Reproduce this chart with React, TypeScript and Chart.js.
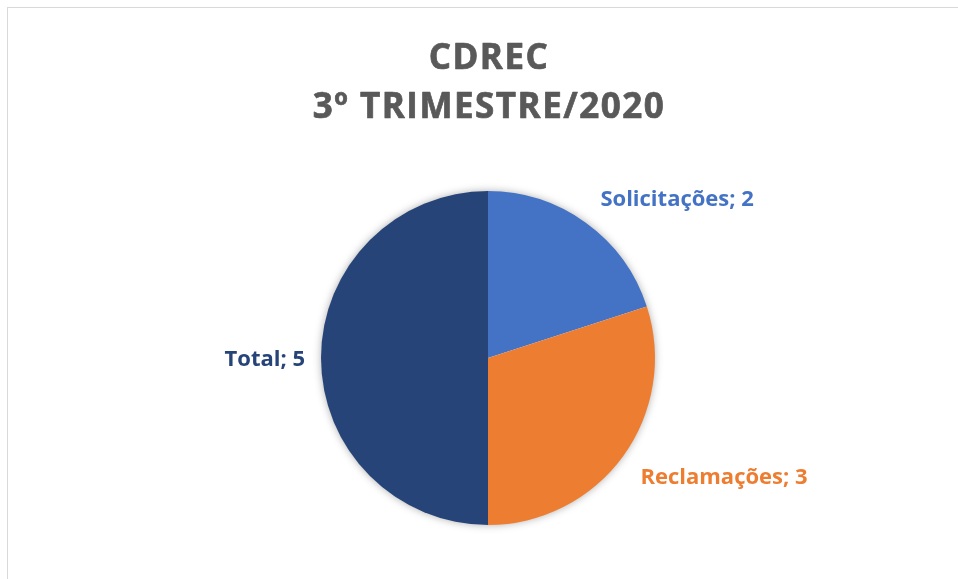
import React, { useEffect, useRef } from "react";
import { Chart, registerables } from "chart.js";

Chart.register(...registerables);

const titleLines = ["CDREC", "3º TRIMESTRE/2020"];
const categories = ["Solicitações", "Reclamações", "Total"];
const values = [2, 3, 5];
const colors = ["#4472C4", "#ED7D31", "#264478"];

const FONT = "'Open Sans', Lato, sans-serif";

const decorPlugin = {
  id: "decor",
  beforeDatasetsDraw(chart: any) {
    const meta = chart.getDatasetMeta(0);
    const arc = meta.data[0];
    if (!arc) return;
    const { x, y, outerRadius } = arc.getProps(["x", "y", "outerRadius"], true);
    const ctx = chart.ctx;
    ctx.save();
    ctx.shadowColor = "rgba(0,0,0,0.35)";
    ctx.shadowBlur = 9;
    ctx.shadowOffsetX = 0;
    ctx.shadowOffsetY = 0;
    ctx.fillStyle = "#ffffff";
    ctx.beginPath();
    ctx.arc(x, y, outerRadius - 0.5, 0, Math.PI * 2);
    ctx.fill();
    ctx.restore();
  },
  afterDraw(chart: any) {
    const ctx = chart.ctx;
    const meta = chart.getDatasetMeta(0);
    const first = meta.data[0];
    if (!first) return;
    const cx0 = first.getProps(["x"], true).x;
    ctx.save();
    ctx.fillStyle = "#595959";
    ctx.strokeStyle = "#595959";
    ctx.lineWidth = 0.7;
    ctx.lineJoin = "round";
    ctx.font = `bold 35px ${FONT}`;
    (ctx as any).letterSpacing = "1.5px";
    ctx.textAlign = "center";
    ctx.textBaseline = "alphabetic";
    ctx.fillText(titleLines[0], cx0 + 1, 69);
    ctx.strokeText(titleLines[0], cx0 + 1, 69);
    ctx.fillText(titleLines[1], cx0 + 1, 118);
    ctx.strokeText(titleLines[1], cx0 + 1, 118);
    (ctx as any).letterSpacing = "0px";

    ctx.font = `bold 22px ${FONT}`;
    ctx.textBaseline = "middle";
    meta.data.forEach((el: any, i: number) => {
      const p = el.getProps(["x", "y", "startAngle", "endAngle", "outerRadius"], true);
      const mid = (p.startAngle + p.endAngle) / 2;
      const r = p.outerRadius + 14;
      const c = Math.cos(mid);
      const s = Math.sin(mid);
      let lx = p.x + c * r;
      let ly = p.y + s * r;
      ctx.textAlign = c >= 0 ? "left" : "right";
      lx += c >= 0 ? 6 : -2;
      if (Math.abs(s) > 0.3) ly += s > 0 ? 13 : -12;
      else ly += 2;
      ctx.fillStyle = colors[i];
      ctx.fillText(`${categories[i]}; ${values[i]}`, lx, ly);
    });
    ctx.restore();
  },
};

export default function App() {
  const ref = useRef<HTMLCanvasElement | null>(null);
  useEffect(() => {
    if (!ref.current) return;
    const chart = new Chart(ref.current, {
      type: "pie",
      data: {
        labels: categories,
        datasets: [
          {
            data: values,
            backgroundColor: colors,
            borderWidth: 0,
          },
        ],
      },
      options: {
        animation: false,
        responsive: false,
        maintainAspectRatio: false,
        layout: { padding: { left: 321, right: 303, top: 191, bottom: 54 } },
        plugins: {
          legend: { display: false },
          title: { display: false },
          tooltip: { enabled: false },
        },
      },
      plugins: [decorPlugin],
    });
    return () => chart.destroy();
  }, []);

  return (
    <div style={{ position: "fixed", left: 0, top: 0, width: 958, height: 579, background: "#fff" }}>
      <div
        style={{
          position: "absolute",
          left: 7,
          top: 7,
          right: 0,
          bottom: 0,
          borderTop: "1.5px solid #d9d9d9",
          borderLeft: "1.5px solid #d9d9d9",
        }}
      />
      <canvas ref={ref} width={958} height={579} style={{ position: "absolute", left: 0, top: 0 }} />
    </div>
  );
}
